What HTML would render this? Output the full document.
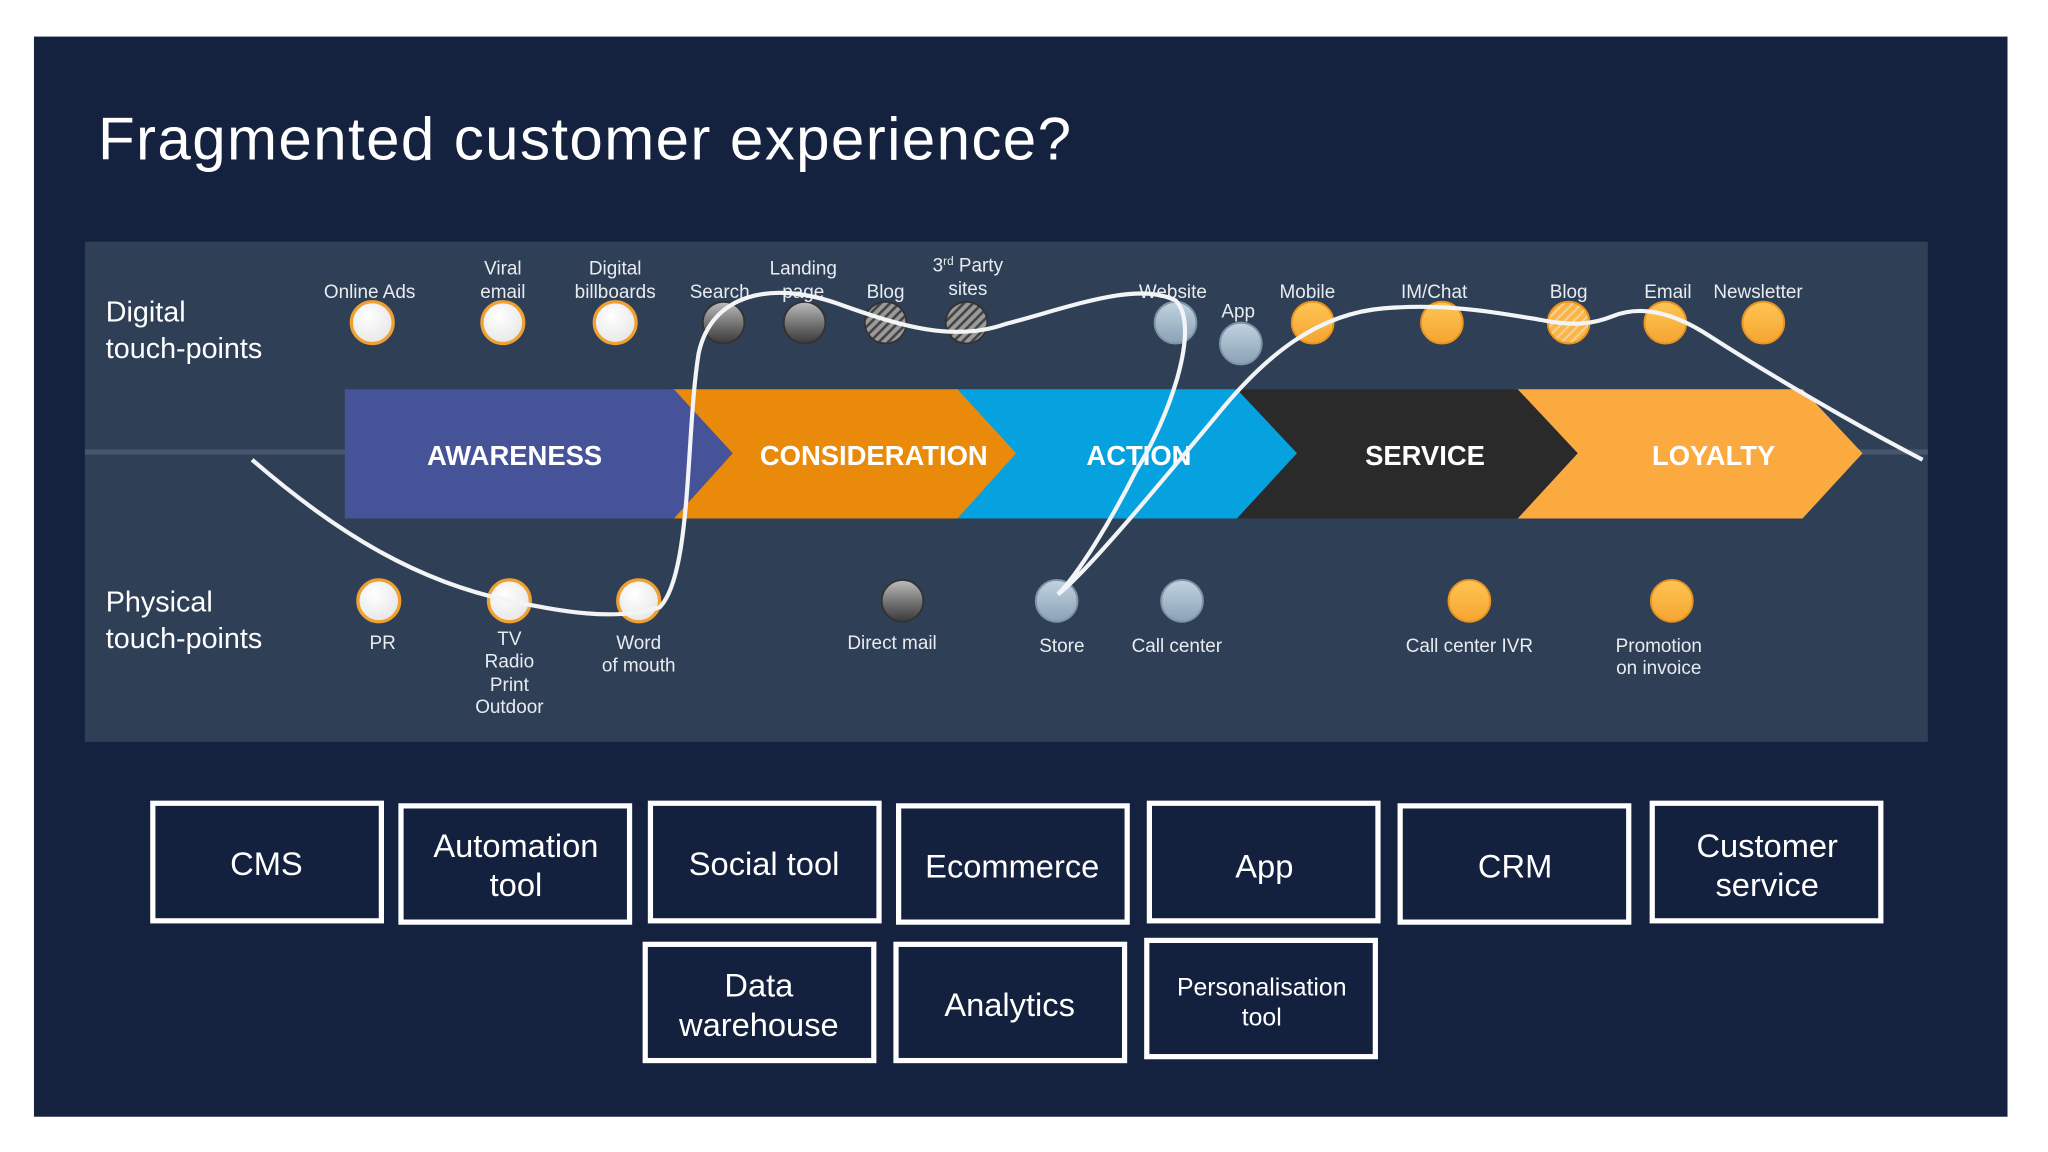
<!DOCTYPE html>
<html><head><meta charset="utf-8"><style>
html,body{margin:0;padding:0;background:#fff;}
svg{display:block;}
text{font-family:"Liberation Sans",sans-serif;}
</style></head><body>
<svg width="2048" height="1152" viewBox="0 0 1568 882" xmlns="http://www.w3.org/2000/svg">
<defs>
<radialGradient id="gw" cx="40%" cy="35%" r="70%"><stop offset="0" stop-color="#ffffff"/><stop offset="1" stop-color="#e6e6e6"/></radialGradient>
<linearGradient id="gg" x1="0" y1="0" x2="0" y2="1"><stop offset="0" stop-color="#bdbdbd"/><stop offset="0.6" stop-color="#6a6a6a"/><stop offset="1" stop-color="#3a3a3a"/></linearGradient>
<linearGradient id="gb" x1="0" y1="0" x2="0" y2="1"><stop offset="0" stop-color="#c2d3e0"/><stop offset="1" stop-color="#8aa2b6"/></linearGradient>
<linearGradient id="go" x1="0" y1="0" x2="0" y2="1"><stop offset="0" stop-color="#ffc555"/><stop offset="1" stop-color="#f5a530"/></linearGradient>
<pattern id="hg" width="5" height="5" patternUnits="userSpaceOnUse" patternTransform="rotate(45)"><rect width="5" height="5" fill="#9a9a9a"/><rect width="2" height="5" fill="#444"/></pattern>
<pattern id="ho" width="5" height="5" patternUnits="userSpaceOnUse" patternTransform="rotate(45)"><rect width="5" height="5" fill="#fbb545"/><rect width="1.5" height="5" fill="#f2d2a0"/></pattern>
</defs>
<rect x="26" y="28" width="1511" height="827" fill="#14223f"/>
<text x="75" y="122" font-size="46" fill="#fff" textLength="745" lengthAdjust="spacing">Fragmented customer experience?</text>
<rect x="65" y="185" width="1411" height="383" fill="#2f3f56"/>
<rect x="65" y="344" width="200" height="4" fill="#46566c"/>
<rect x="1420" y="344" width="56" height="4" fill="#46566c"/>
<polygon points="1160,298 1380,298 1426,347 1380,397 1160,397" fill="#fbaa40"/>
<polygon points="945,298 1162,298 1208,347 1162,397 945,397" fill="#2a2a2b"/>
<polygon points="730,298 947,298 993,347 947,397 730,397" fill="#06a2e0"/>
<polygon points="514,298 733,298 778,347 733,397 514,397" fill="#e98a0a"/>
<polygon points="264,298 516,298 561,347 516,397 264,397" fill="#475398"/>
<g font-size="21" font-weight="bold" fill="#fff" text-anchor="middle">
<text x="394" y="356">AWARENESS</text><text x="669" y="356">CONSIDERATION</text><text x="872" y="356">ACTION</text><text x="1091" y="356">SERVICE</text><text x="1312" y="356">LOYALTY</text>
</g>
<g font-size="22" fill="#fff"><text x="81" y="246">Digital</text><text x="81" y="274">touch-points</text><text x="81" y="468">Physical</text><text x="81" y="496">touch-points</text></g>
<g stroke-width="2.5">
<g fill="url(#gw)" stroke="#f0a030">
<ellipse cx="285" cy="247" rx="16" ry="16"/><ellipse cx="385" cy="247" rx="16" ry="16"/><ellipse cx="471" cy="247" rx="16" ry="16"/>
<ellipse cx="290" cy="460" rx="16" ry="16"/><ellipse cx="390" cy="460" rx="16" ry="16"/><ellipse cx="489" cy="460" rx="16" ry="16"/>
</g>
<g fill="url(#gg)" stroke="#333" stroke-width="1.5">
<ellipse cx="554" cy="247" rx="16" ry="16"/><ellipse cx="616" cy="247" rx="16" ry="16"/><ellipse cx="691" cy="460" rx="16" ry="16"/>
</g>
<g fill="url(#hg)" stroke="#333" stroke-width="1.5"><ellipse cx="678" cy="247" rx="16" ry="16"/><ellipse cx="740" cy="247" rx="16" ry="16"/></g>
<g fill="url(#gb)" stroke="#7d93a6" stroke-width="1.5">
<ellipse cx="900" cy="247" rx="16" ry="16"/><ellipse cx="950" cy="263" rx="16" ry="16"/><ellipse cx="809" cy="460" rx="16" ry="16"/><ellipse cx="905" cy="460" rx="16" ry="16"/>
</g>
<g fill="url(#go)" stroke="#e89420" stroke-width="1.5">
<ellipse cx="1005" cy="247" rx="16" ry="16"/><ellipse cx="1104" cy="247" rx="16" ry="16"/><ellipse cx="1275" cy="247" rx="16" ry="16"/><ellipse cx="1350" cy="247" rx="16" ry="16"/>
<ellipse cx="1125" cy="460" rx="16" ry="16"/><ellipse cx="1280" cy="460" rx="16" ry="16"/>
</g>
<ellipse cx="1201" cy="247" rx="16" ry="16" fill="url(#ho)" stroke="#e89420" stroke-width="1.5"/>
</g>
<g font-size="14.5" fill="#e8ecf0" text-anchor="middle">
<text x="283" y="228">Online Ads</text>
<text x="385" y="210">Viral</text><text x="385" y="228">email</text>
<text x="471" y="210">Digital</text><text x="471" y="228">billboards</text>
<text x="551" y="228">Search</text>
<text x="615" y="210">Landing</text><text x="615" y="228">page</text>
<text x="678" y="228">Blog</text>
<text x="741" y="208">3<tspan font-size="9" dy="-5">rd</tspan><tspan dy="5"> Party</tspan></text><text x="741" y="226">sites</text>
<text x="898" y="228">Website</text>
<text x="948" y="243">App</text>
<text x="1001" y="228">Mobile</text>
<text x="1098" y="228">IM/Chat</text>
<text x="1201" y="228">Blog</text>
<text x="1277" y="228">Email</text>
<text x="1346" y="228">Newsletter</text>
<text x="293" y="497">PR</text>
<text x="390" y="494">TV</text><text x="390" y="511">Radio</text><text x="390" y="529">Print</text><text x="390" y="546">Outdoor</text>
<text x="489" y="497">Word</text><text x="489" y="514">of mouth</text>
<text x="683" y="497">Direct mail</text>
<text x="813" y="499">Store</text>
<text x="901" y="499">Call center</text>
<text x="1125" y="499">Call center IVR</text>
<text x="1270" y="499">Promotion</text><text x="1270" y="516">on invoice</text>
</g>
<path d="M193,352 C260,410 320,445 390,460 C430,468 470,476 505,465 C530,440 525,330 535,270 C545,225 590,215 640,232 C690,250 730,262 770,248 C820,235 870,215 900,230 C920,250 895,320 870,360 C850,400 825,440 810,455 C830,440 880,380 930,320 C970,270 1010,240 1060,236 C1110,232 1150,240 1180,245 C1205,250 1220,248 1235,242 C1255,234 1280,238 1310,258 C1360,290 1420,325 1472,352" fill="none" stroke="#f2f4f6" stroke-width="3.2"/>
<g fill="#13213e" stroke="#fff" stroke-width="4">
<rect x="117" y="615" width="175" height="90"/><rect x="307" y="617" width="175" height="89"/><rect x="498" y="615" width="175" height="90"/><rect x="688" y="617" width="175" height="89"/><rect x="880" y="615" width="175" height="90"/><rect x="1072" y="617" width="175" height="89"/><rect x="1265" y="615" width="175" height="90"/>
<rect x="494" y="723" width="175" height="89"/><rect x="686" y="723" width="175" height="89"/><rect x="878" y="720" width="175" height="89"/>
</g>
<g font-size="25" fill="#fff" text-anchor="middle">
<text x="204" y="670">CMS</text>
<text x="395" y="656">Automation</text><text x="395" y="686">tool</text>
<text x="585" y="670">Social tool</text>
<text x="775" y="672">Ecommerce</text>
<text x="968" y="672">App</text>
<text x="1160" y="672">CRM</text>
<text x="1353" y="656">Customer</text><text x="1353" y="686">service</text>
<text x="581" y="763">Data</text><text x="581" y="793">warehouse</text>
<text x="773" y="778">Analytics</text>
<text x="966" y="762" font-size="19">Personalisation</text><text x="966" y="785" font-size="19">tool</text>
</g>
</svg>
</body></html>
